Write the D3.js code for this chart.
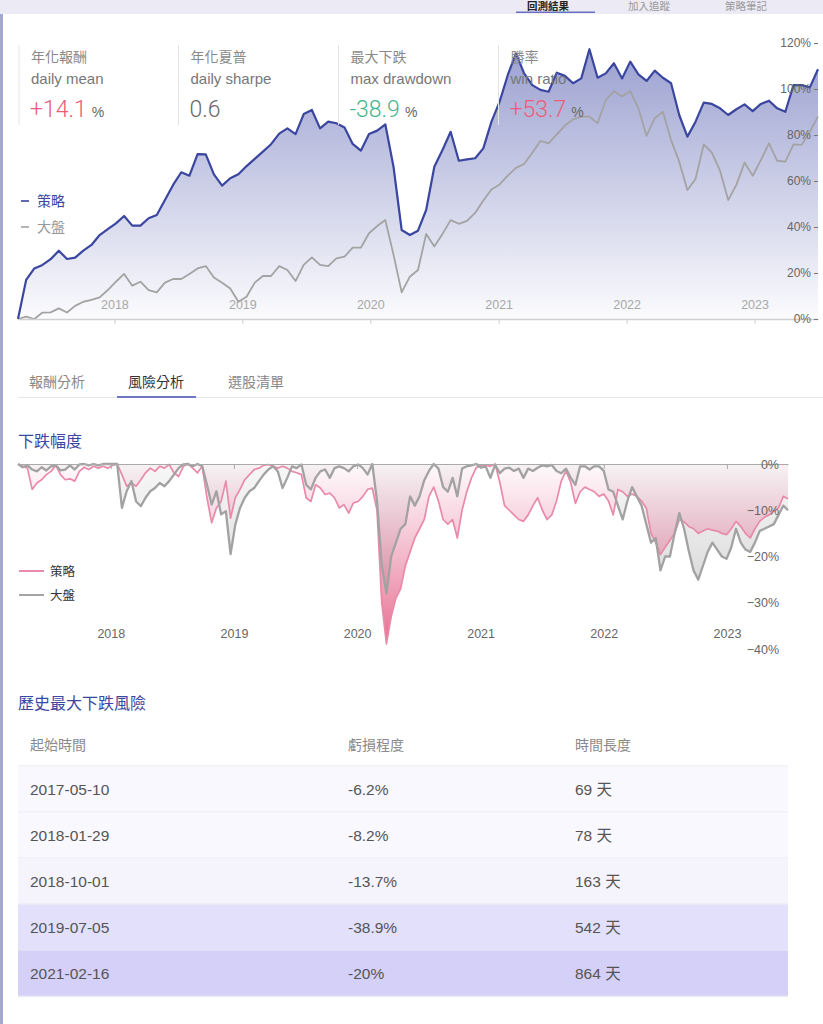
<!DOCTYPE html>
<html><head><meta charset="utf-8">
<script src="https://cdn.jsdelivr.net/npm/d3@7"></script>
<style>
html,body{margin:0;padding:0;background:#fff;}
svg{display:block;font-family:"Liberation Sans","Noto Sans CJK TC",sans-serif;}
</style></head><body>
<svg id="c" width="823" height="1024"></svg>
<script>
// ---------------- DATA ----------------
const startDate = new Date(2017, 3, 1);
const endDate = new Date(2023, 6, 1);
const yearTicks = [2018, 2019, 2020, 2021, 2022, 2023];
const cumTicks = [0, 20, 40, 60, 80, 100, 120];
const ddTicks = [0, -10, -20, -30, -40];

// cumulative return (%), sampled evenly from start to end
const strategyCum = [0,17.0,22.0,23.5,26.0,29.7,26.1,26.7,29.7,32.2,36.5,39.1,41.6,44.8,40.6,40.6,43.8,45.2,51.7,58.3,
 63.8,62.3,71.7,71.6,62.9,58.0,61.2,62.9,66.5,69.6,72.8,76.0,80.6,82.9,80.4,89.1,90.9,82.9,85.8,85.1,
 83.3,76.1,73.2,80.4,81.9,84.6,66.2,38.7,36.5,38.4,47.4,66.2,73.5,81.4,68.8,69.4,69.9,74.2,85.8,94.5,
 106.1,115.5,106.8,101.7,99.6,98.8,107.1,105.7,102.5,104.6,117.3,104.9,106.8,111.2,104.6,111.9,106.4,103.5,108.0,104.9,
 102.5,88.7,79.3,85.8,94.1,93.5,91.6,88.7,91.2,93.3,90.4,93.5,94.9,91.6,90.1,101.7,101.7,100.7,108.6];
const benchmarkCum = [0,1.0,0,2.8,2.9,4.6,2.8,5.7,7.5,8.3,9.4,12.6,16.2,19.6,14.5,16.2,12.6,11.6,15.8,17.4,
 17.4,19.6,22.0,23.0,18.0,15.8,13.3,7.5,9.7,15.8,18.7,18.7,23.0,21.3,16.5,23.5,26.8,23.5,23.0,26.4,
 27.1,31.0,31.0,37.3,40.4,43.0,28.0,11.6,18.4,21.3,37.0,31.5,37.0,43.0,41.4,42.7,46.1,51.5,56.3,58.5,
 62.3,65.7,67.4,72.3,77.4,76.4,80.3,84.1,86.8,88.0,88.0,85.1,95.2,99.1,96.7,99.1,91.6,79.6,87.3,90.1,
 77.8,68.4,56.1,60.9,75.9,72.3,64.5,51.7,58.3,68.0,62.3,69.1,76.4,68.8,68.4,75.9,75.7,81.4,88.0];

// drawdown (%), every 14 days from start
const strategyDD = [0,-0.5,-0.9,-5.5,-4.1,-3.4,-2.3,-1.6,-0.3,-2.3,-3.4,-3.2,-3.7,-1.6,-0.7,-1.2,-0.5,-0.9,-0.5,-0.9,
 -0.3,0,-2.3,-4.8,-4.1,-4.8,-3.4,-1.9,-0.9,-1.6,-0.5,-0.9,-0.1,-1.9,-2.7,-0.5,0,-0.9,-1.9,-0.5,
 -7.3,-12.7,-9.5,-8.1,-3.7,-11.7,-7.3,-5.5,-3.4,-2.3,-1.2,-0.9,-0.3,-0.1,-0.5,-0.9,-0.5,-0.9,-1.6,-1.9,
 -2.3,-7.3,-8.1,-4.5,-5.2,-6.6,-6.3,-7.3,-9.5,-8.8,-10.6,-8.4,-8.1,-7.0,-5.5,-5.2,-10,-30,-38.9,-33,
 -29,-27,-22,-19,-16,-14,-12,-7,-5,-8,-12,-13,-12,-16,-10,-6,-3,-0.8,-0.3,-0.2,
 -0.5,0,-4,-9,-10,-11,-12,-12.4,-11,-9,-7.3,-10,-12,-11,-8,-3.7,-1.5,-4,-8.5,-6,
 -5,-5.5,-6,-7,-6.5,-8,-11,-5.5,-6,-7,-6.5,-7,-8,-9.5,-15,-17,-19.6,-18,-16.5,-15,
 -12,-12.5,-13.5,-14,-15,-14.5,-14,-14.3,-14.5,-15,-15.3,-14,-12.4,-13.5,-15,-16,-14,-12.4,-11.5,-11,
 -10.2,-9.5,-7,-7.5];
const benchmarkDD = [0,-0.7,-0.3,-1.2,-1.6,-0.7,-1.4,-0.5,-0.3,-1.4,-1.2,-0.3,-1.2,-0.1,0,-0.3,0,-0.3,0,0,
 0,0,-9.5,-5.9,-3.7,-8.1,-9.1,-7.3,-5.9,-5.2,-4.1,-4.8,-3.7,-2.3,-0.9,-0.1,0,-0.5,0,-0.5,
 -4.5,-8.8,-5.9,-10.9,-10.2,-19.5,-13.1,-9.5,-7.3,-5.9,-5.2,-3.7,-2.3,-1.2,-0.5,-1.6,-5.2,-3.0,-0.5,-0.9,
 -0.1,-4.5,-5.5,-3.0,-1.6,-1.2,-3.0,-0.9,-0.5,-0.9,-1.6,-0.5,-0.1,-0.9,-2.3,0,-8,-22,-28,-20,
 -17,-14,-13,-7,-9,-7,-3.5,-1.5,0,-1,-5,-6,-3,-7,-1,-0.5,-0.3,0,-0.8,-0.5,
 -3,-0.2,-2,-1,-0.8,-1.5,-1,-3,-1,-1.5,-0.8,-0.3,-0.5,-0.2,-1.5,-2,-1,-3,-4.5,-0.5,
 -0.5,-1.2,-0.5,-0.5,-1.5,-5.5,-6,-9,-12,-8,-5,-7,-9,-13,-17,-16,-23,-20,-20,-15,
 -10.6,-14,-18.8,-23,-25,-22,-19,-17,-18.5,-20,-20.5,-18,-14,-17,-18.5,-19,-17,-14.5,-14,-13.5,
 -13,-11,-9,-10];

const statTitles = ["年化報酬", "年化夏普", "最大下跌", "勝率"];
const statNames = ["daily mean", "daily sharpe", "max drawdown", "win ratio"];
const statValues = ["+14.1", "0.6", "-38.9", "+53.7"];
const statUnits = ["%", "", "%", "%"];

const seriesNames = ["策略", "大盤"];
const headerTabs = ["回測結果", "加入追蹤", "策略筆記"];
const subTabs = ["報酬分析", "風險分析", "選股清單"];

const tableHeaders = ["起始時間", "虧損程度", "時間長度"];
const ddStart = ["2017-05-10", "2018-01-29", "2018-10-01", "2019-07-05", "2021-02-16"];
const ddLoss = ["-6.2%", "-8.2%", "-13.7%", "-38.9%", "-20%"];
const ddDays = ["69 天", "78 天", "163 天", "542 天", "864 天"];

// ---------------- DRAW ----------------
const svg = d3.select("#c");
const defs = svg.append("defs");
const DAY = 86400000;
const span = (endDate - startDate);

// page chrome
svg.append("rect").attr("x",0).attr("y",0).attr("width",823).attr("height",14).attr("fill","#ecebf5");
const tabX = [527, 628, 725];
headerTabs.forEach((t,i)=>{
  svg.append("text").attr("x",tabX[i]).attr("y",9.5).attr("font-size",10.5)
    .attr("fill", i===0?"#222":"#999").attr("font-weight", i===0?"bold":"normal").text(t);
});
svg.append("rect").attr("x",516).attr("y",11.5).attr("width",79).attr("height",1.5).attr("fill","#6a71c0");
svg.append("rect").attr("x",0).attr("y",14).attr("width",823).attr("height",1010).attr("fill","#fff");
svg.append("rect").attr("x",0).attr("y",14).attr("width",3).attr("height",1010).attr("fill","#a4a7cf");

// ---- top cumulative chart ----
const xTop = d3.scaleTime().domain([startDate, endDate]).range([18, 818]);
const yTop = d3.scaleLinear().domain([0, 120]).range([319, 43]);
const topDates = strategyCum.map((_, i) => new Date(+startDate + i * span / (strategyCum.length - 1)));

const gradTop = defs.append("linearGradient").attr("id","gTop").attr("gradientUnits","userSpaceOnUse")
  .attr("x1",0).attr("x2",0).attr("y1",yTop(120)).attr("y2",yTop(0));
gradTop.append("stop").attr("offset",0).attr("stop-color","#4650a8").attr("stop-opacity",0.55);
gradTop.append("stop").attr("offset",1).attr("stop-color","#4650a8").attr("stop-opacity",0.02);

const areaTop = d3.area().x((d,i)=>xTop(topDates[i])).y0(yTop(0)).y1(d=>yTop(d));
const lineTop = d3.line().x((d,i)=>xTop(topDates[i])).y(d=>yTop(d));
svg.append("path").datum(strategyCum).attr("d", areaTop).attr("fill","url(#gTop)");
svg.append("path").datum(benchmarkCum).attr("d", lineTop).attr("fill","none").attr("stroke","#a3a3a3").attr("stroke-width",1.8).attr("stroke-linejoin","round");
svg.append("path").datum(strategyCum).attr("d", lineTop).attr("fill","none").attr("stroke","#3a46a0").attr("stroke-width",2.2).attr("stroke-linejoin","round");

const gxTop = svg.append("g").attr("transform","translate(0,319)")
  .call(d3.axisBottom(xTop).tickValues(yearTicks.map(y=>new Date(y,0,1))).tickFormat(d3.timeFormat("%Y")).tickSize(5).tickSizeOuter(0));
gxTop.select(".domain").attr("stroke","#cfcfcf").attr("stroke-width",1.5);
gxTop.selectAll(".tick line").attr("stroke","#cfcfcf");
gxTop.selectAll("text").attr("y",-10).attr("dy",null).attr("fill","#a8a8a8").attr("font-size",12.5).attr("font-family",null);

const gyTop = svg.append("g").attr("transform","translate(818,0)")
  .call(d3.axisLeft(yTop).tickValues(cumTicks).tickFormat(d=>d+"%").tickSize(4).tickPadding(3));
gyTop.select(".domain").remove();
gyTop.selectAll(".tick line").attr("stroke","#777");
gyTop.selectAll("text").attr("fill","#666").attr("font-size",12).attr("font-family",null);

// stats overlay
const boxX = [19, 178.5, 338.5, 498.5];
const valColors = ["#ee5b78", "#6a6a6a", "#45b68c", "#ee5b78"];
statTitles.forEach((t,i)=>{
  const g = svg.append("g");
  g.append("line").attr("x1",boxX[i]).attr("x2",boxX[i]).attr("y1",45).attr("y2",125).attr("stroke","#e4e4e4");
  g.append("text").attr("x",boxX[i]+12).attr("y",62).attr("font-size",14).attr("fill","#8a8a8a").text(t);
  g.append("text").attr("x",boxX[i]+12).attr("y",84).attr("font-size",15).attr("fill","#777").text(statNames[i]);
  const v = g.append("text").attr("x",boxX[i]+11).attr("y",117).attr("fill",valColors[i]);
  v.append("tspan").attr("font-size",23).attr("font-family","Roboto, 'Liberation Sans', sans-serif").attr("font-weight",300).text(statValues[i]);
  if (statUnits[i]) v.append("tspan").attr("dx",5).attr("font-size",14).attr("fill","#666").text(statUnits[i]);
});

// top legend
[["#3a46a0",201],["#a3a3a3",227]].forEach(([c,y],i)=>{
  svg.append("line").attr("x1",21).attr("x2",29).attr("y1",y).attr("y2",y).attr("stroke",c).attr("stroke-width",1.6);
  svg.append("text").attr("x",37).attr("y",y+5).attr("font-size",14).attr("fill", i===0?"#3a46a0":"#999").text(seriesNames[i]);
});

// ---- sub tabs ----
const subX = [29, 128, 228];
subTabs.forEach((t,i)=>{
  svg.append("text").attr("x",subX[i]).attr("y",387).attr("font-size",14).attr("fill", i===1?"#333":"#888").text(t);
});
svg.append("line").attr("x1",18).attr("x2",823).attr("y1",397.5).attr("y2",397.5).attr("stroke","#e6e6e6");
svg.append("line").attr("x1",117).attr("x2",196).attr("y1",397).attr("y2",397).attr("stroke","#6f77c4").attr("stroke-width",2);

svg.append("text").attr("x",18).attr("y",447).attr("font-size",16).attr("fill","#3d46a1").text("下跌幅度");

// ---- drawdown chart ----
const xDD = d3.scaleTime().domain([startDate, endDate]).range([18, 788]);
const yDD = d3.scaleLinear().domain([0, -40]).range([464, 649]);
const ddDates = strategyDD.map((_, i) => new Date(+startDate + i * 14 * DAY));

const gPink = defs.append("linearGradient").attr("id","gPink").attr("gradientUnits","userSpaceOnUse")
  .attr("x1",0).attr("x2",0).attr("y1",yDD(0)).attr("y2",yDD(-40));
gPink.append("stop").attr("offset",0).attr("stop-color","#e97aa0").attr("stop-opacity",0.04);
gPink.append("stop").attr("offset",1).attr("stop-color","#e2577f").attr("stop-opacity",0.9);
const gGrey = defs.append("linearGradient").attr("id","gGrey").attr("gradientUnits","userSpaceOnUse")
  .attr("x1",0).attr("x2",0).attr("y1",yDD(0)).attr("y2",yDD(-40));
gGrey.append("stop").attr("offset",0).attr("stop-color","#c8c8c8").attr("stop-opacity",0.15);
gGrey.append("stop").attr("offset",1).attr("stop-color","#999").attr("stop-opacity",0.6);

const areaDD = d3.area().x((d,i)=>xDD(ddDates[i])).y0(yDD(0)).y1(d=>yDD(d));
const lineDD = d3.line().x((d,i)=>xDD(ddDates[i])).y(d=>yDD(d));
svg.append("path").datum(benchmarkDD).attr("d", areaDD).attr("fill","url(#gGrey)");
svg.append("path").datum(strategyDD).attr("d", areaDD).attr("fill","url(#gPink)");
svg.append("path").datum(strategyDD).attr("d", lineDD).attr("fill","none").attr("stroke","#e98aa8").attr("stroke-width",1.7).attr("stroke-linejoin","round");
svg.append("path").datum(benchmarkDD).attr("d", lineDD).attr("fill","none").attr("stroke","#a2a2a2").attr("stroke-width",2.3).attr("stroke-linejoin","round");

const gxDD = svg.append("g").attr("transform","translate(0,464)")
  .call(d3.axisBottom(xDD).tickValues(yearTicks.map(y=>new Date(y,0,1))).tickFormat(d3.timeFormat("%Y")).tickSize(5).tickSizeOuter(0));
gxDD.select(".domain").attr("stroke","#aaa");
gxDD.selectAll(".tick line").attr("stroke","#aaa");
gxDD.selectAll("text").attr("y",174).attr("dy",null).attr("fill","#666").attr("font-size",12.5).attr("font-family",null);

const gyDD = svg.append("g").attr("transform","translate(779,0)")
  .call(d3.axisLeft(yDD).tickValues(ddTicks).tickFormat(d=> d===0 ? "0%" : "\u2212" + Math.abs(d) + "%").tickSize(0).tickPadding(0));
gyDD.select(".domain").remove();
gyDD.selectAll("text").attr("fill","#666").attr("font-size",12.5).attr("font-family",null);

// dd legend
[["#e98aa8",571],["#a5a5a5",595]].forEach(([c,y],i)=>{
  svg.append("line").attr("x1",19).attr("x2",44).attr("y1",y).attr("y2",y).attr("stroke",c).attr("stroke-width",2);
  svg.append("text").attr("x",50).attr("y",y+4.5).attr("font-size",12.5).attr("fill","#333").text(seriesNames[i]);
});

// ---- table ----
svg.append("text").attr("x",18).attr("y",709).attr("font-size",16).attr("fill","#3d46a1").text("歷史最大下跌風險");
const colX = [30, 348, 575];
tableHeaders.forEach((h,i)=>{
  svg.append("text").attr("x",colX[i]).attr("y",750).attr("font-size",14).attr("fill","#8a8a8a").text(h);
});
svg.append("line").attr("x1",18).attr("x2",788).attr("y1",766).attr("y2",766).attr("stroke","#e6e6ee");
const rowFill = ["#f9f8fe","#f9f8fe","#f5f4fd","#e2e0fa","#d4d0f8"];
ddStart.forEach((s,i)=>{
  const y0 = 766 + 46*i;
  svg.append("rect").attr("x",18).attr("y",y0+0.5).attr("width",770).attr("height",46).attr("fill",rowFill[i]);
  svg.append("line").attr("x1",18).attr("x2",788).attr("y1",y0+46).attr("y2",y0+46).attr("stroke","#e8e7f0");
  [s, ddLoss[i], ddDays[i]].forEach((t,j)=>{
    svg.append("text").attr("x",colX[j]).attr("y",y0+29).attr("font-size",15.5).attr("fill","#555").text(t);
  });
});
</script>
</body></html>
